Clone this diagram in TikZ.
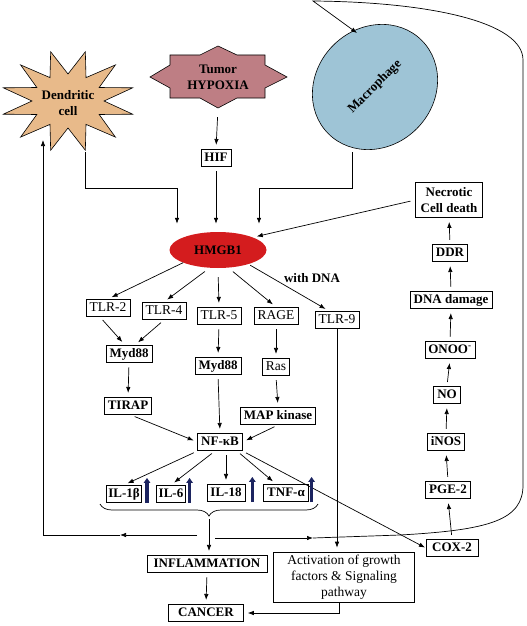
\documentclass[tikz,border=0pt]{standalone}
\usepackage{fontspec}
\setmainfont{Liberation Serif}
\usepackage{tikz}
\usetikzlibrary{shapes.geometric, arrows.meta, decorations.pathreplacing}

\definecolor{dendfill}{RGB}{232,186,138}
\definecolor{hypfill}{RGB}{190,126,132}
\definecolor{macfill}{RGB}{158,196,214}
\definecolor{hmgred}{RGB}{212,28,30}
\definecolor{navy}{RGB}{28,36,96}

\newcommand\hdfont{\fontsize{13}{16}\selectfont\bfseries}

\tikzset{
  box/.style={draw, line width=0.6pt, fill=white, inner xsep=3.5pt, inner ysep=3pt, text height=9pt, text depth=2.5pt, font=\fontsize{13}{15}\selectfont\bfseries},
  boxn/.style={box, font=\fontsize{13.5}{15}\selectfont},
  widebox/.style={draw, line width=0.6pt, fill=white, align=center, inner sep=4pt},
  link/.style={-{Latex[length=6pt,width=4.5pt]}, line width=0.7pt, shorten <=4pt, shorten >=4pt},
  plain/.style={-{Latex[length=6pt,width=4.5pt]}, line width=0.7pt},
  rise/.style={line width=3.2pt, navy, -{Triangle[length=5pt,width=6.5pt]}}
}

\begin{document}
\begin{tikzpicture}[x=1pt, y=-1pt]
\useasboundingbox (0,0) rectangle (527,626);

\draw[fill=dendfill, line width=0.6pt] plot[samples at={0,...,23}] ({68+(67-31*mod(\x,2))*cos(15*\x+15)}, {101+(51-24*mod(\x,2))*sin(15*\x+15)}) -- cycle;
\node[font=\hdfont, align=center] (dend) at (68,103) {Dendritic\\cell};

\draw[fill=hypfill, line width=0.6pt] (150,77) -- (170,65) -- (170,55) -- (200,55) -- (218,46) -- (237,55) -- (265,55) -- (265,65) -- (287,77) -- (265,88) -- (265,98) -- (237,98) -- (218,108) -- (200,98) -- (170,98) -- (170,88) -- cycle;
\node[font=\hdfont, align=center, minimum height=62] (hyp) at (218,77) {Tumor\\HYPOXIA};

\node[ellipse, draw, line width=0.6pt, fill=macfill, minimum width=132, minimum height=118, rotate=45, font=\hdfont] (mac) at (375,87) {Macrophage};

\node[box] (hif) at (216,158) {HIF};
\node[ellipse, fill=hmgred, minimum width=97, minimum height=36, inner sep=0pt, font=\fontsize{13}{15}\selectfont\bfseries] (hmgb) at (218,250) {HMGB1};

\node[widebox, font=\hdfont, inner sep=5pt] (nec) at (449,200) {Necrotic\\Cell death};
\node[box] (ddr) at (450,253) {DDR};
\node[box] (dnad) at (451,300) {DNA damage};
\node[box] (onoo) at (450,350) {ONOO\textsuperscript{-}};
\node[box] (no) at (447,395) {NO};
\node[box] (inos) at (446,442) {iNOS};
\node[box] (pge) at (448,490) {PGE-2};
\node[box, inner xsep=6pt] (cox) at (452,548) {COX-2};

\node[boxn] (tlr2) at (108,308) {TLR-2};
\node[boxn] (tlr4) at (164,311) {TLR-4};
\node[boxn] (tlr5) at (219,316) {TLR-5};
\node[boxn] (rage) at (276,316) {RAGE};
\node[boxn] (tlr9) at (337,320) {TLR-9};
\node[font=\fontsize{13}{15}\selectfont\bfseries] (wdna) at (312,278) {with DNA};

\node[box] (myda) at (129,354) {Myd88};
\node[box] (mydb) at (218,366) {Myd88};
\node[boxn] (ras) at (276,367) {Ras};
\node[box] (tirap) at (128,406) {TIRAP};
\node[box] (mapk) at (278,416) {MAP kinase};
\node[box] (nfkb) at (220,442) {NF-κB};

\node[box, inner xsep=2pt] (il1) at (124,494) {IL-1β};
\node[box, inner xsep=2pt] (il6) at (171,494) {IL-6};
\node[box] (il18) at (226,493) {IL-18};
\node[box] (tnf) at (286,493) {TNF-α};

\node[box, minimum width=120] (infl) at (207,564) {INFLAMMATION};
\node[widebox, font=\fontsize{13.5}{16}\selectfont, minimum width=141, minimum height=50, inner sep=2pt] (act) at (344,577) {Activation of growth\\factors \& Signaling\\pathway};
\node[box, minimum width=75] (cancer) at (206,613) {CANCER};

\coordinate (dendout) at (85,152);
\coordinate (dendin) at (43,140);
\coordinate (macout) at (352,152);
\coordinate (macin) at (357,33);
\coordinate (jl) at (177,188);
\coordinate (jr) at (259,188);
\coordinate (brtip) at (209,519);
\coordinate (brl) at (197,535);
\coordinate (brr) at (215,538);
\coordinate (lmid) at (120,535);
\coordinate (rmid) at (313,538);

\draw[link, shorten <=9pt] (hyp.south) -- (hif.north);
\draw[plain, shorten >=8pt] (dendout) |- (jl) -- (jl |- hmgb.north);
\draw[link, shorten >=8pt] (hif.south) -- (hif.south |- hmgb.north);
\draw[plain, shorten >=8pt] (macout) |- (jr) -- (jr |- hmgb.north);
\draw[link, shorten <=5pt] (nec.west) -- (hmgb.20);

\draw[link, shorten <=0pt] (hmgb.200) -- (tlr2.north);
\draw[link, shorten <=6pt] (hmgb.245) -- (tlr4.north);
\draw[link, shorten <=9pt] (hmgb.south) -- (tlr5.north);
\draw[link, shorten <=6pt] (hmgb.300) -- (rage.north);
\draw[link, shorten <=2pt] (hmgb.335) -- ([xshift=-8pt]tlr9.north);

\draw[link] ([xshift=-8pt]tlr2.south) -- ([xshift=-4pt]myda.north);
\draw[link] (tlr4.south) -- ([xshift=6pt]myda.north);
\draw[link] (tlr5.south) -- (mydb.north);
\draw[link] (rage.south) -- (ras.north);
\draw[link] (myda.south) -- (tirap.north);
\draw[link] (ras.south) -- (mapk.north);
\draw[link] ([xshift=3pt]tirap.south) -- (nfkb.west);
\draw[link] (mydb.south) -- (nfkb.north);
\draw[link] (mapk.south) -- (nfkb.east);

\draw[link] (nfkb.south west) -- (il1.north);
\draw[link] ([xshift=-5pt]nfkb.south) -- (il6.north);
\draw[link] (il18.north |- nfkb.south) -- (il18.north);
\draw[link] ([xshift=17pt]nfkb.south) -- ([xshift=-10pt]tnf.north);
\draw[link, shorten >=1pt] (nfkb.south east) -- (cox.west);

\foreach \il/\dx in {il1/5, il6/4, il18/7, tnf/3}
  \draw[rise] ([xshift=\dx pt]\il.south east) -- ([xshift=\dx pt, yshift=7pt]\il.north east);

\draw[line width=0.7pt, decorate, decoration={brace, mirror, amplitude=12pt}] (100,504) -- (318,504);
\draw[plain, shorten >=4pt] (brtip) -- (brtip |- infl.north);
\draw[plain] (brl) -- (lmid);
\draw[plain] (lmid) -| (dendin);
\draw[plain] (brr) -- (rmid);
\draw[plain] (rmid) -- (400,535) .. controls (490,530) and (523,520) .. (523,485) -- (523,60) .. controls (523,22) and (430,2) .. (313,1) -- (macin);

\draw[link, shorten <=0pt] (tlr9.south) -- (tlr9.south |- act.north);
\draw[link, shorten <=0pt] ([xshift=-5pt]act.south) |- (cancer.east);
\draw[link] (infl.south) -- (cancer.north);

\draw[link] (cox.north) -- (pge.south);
\draw[link] (pge.north) -- (inos.south);
\draw[link] (inos.north) -- (no.south);
\draw[link] (no.north) -- (onoo.south);
\draw[link] (onoo.north) -- (dnad.south);
\draw[link] (dnad.north) -- (ddr.south);
\draw[link] (ddr.north) -- (nec.south);
\end{tikzpicture}
\end{document}
